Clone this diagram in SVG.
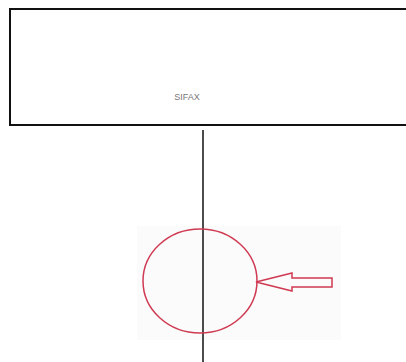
<svg xmlns="http://www.w3.org/2000/svg" width="406" height="362" viewBox="0 0 406 362">
<style>
.box{fill:#fff;stroke:#111;stroke-width:2}
.lbl{font-family:"Liberation Sans",Arial,sans-serif;font-size:9px;fill:#777}
.conn{stroke:#111;stroke-width:1.5;fill:none}
.red{fill:none;stroke:#cf3a52;stroke-width:1.5}
</style>
<rect width="406" height="362" fill="#fff"/>
<g id="top-box">
<rect class="box" x="10" y="9" width="400" height="116"/>
<text class="lbl" x="187" y="100" text-anchor="middle">SIFAX</text>
</g>
<g id="marker-area">
<rect x="137" y="226" width="204" height="114" fill="#fbfbfb"/>
</g>
<g id="connectors">
<line class="conn" x1="203" y1="130" x2="203" y2="362"/>
</g>
<g id="circle">
<ellipse class="red" cx="200" cy="281" rx="57" ry="52"/>
</g>
<g id="arrow">
<path class="red" d="M256,282 L292,273 L292,278 L332,278 L332,287 L292,287 L292,291 Z"/>
</g>
</svg>
